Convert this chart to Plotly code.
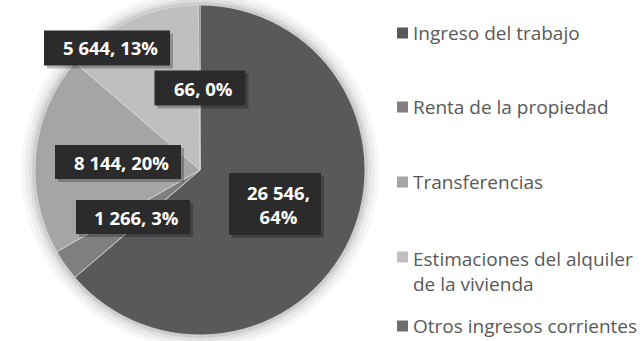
import plotly.graph_objects as go

# Ingreso corriente de los hogares por fuente
categories = [
    "Ingreso del trabajo",
    "Renta de la propiedad",
    "Transferencias",
    "Estimaciones del alquiler<br>de la vivienda",
    "Otros ingresos corrientes",
]
values = [26546, 1266, 8144, 5644, 66]
pct_labels = ["64%", "3%", "20%", "13%", "0%"]
colors = ["#595959", "#7f7f7f", "#a5a5a5", "#bfbfbf", "#6e6e6e"]

W, H = 644, 341


def px(x, y):
    return x / W, 1 - y / H


def fmt(v):
    return f"{v:,}".replace(",", " ")


fig = go.Figure()

fig.add_trace(go.Pie(
    labels=categories,
    values=values,
    sort=False,
    direction="clockwise",
    rotation=0,
    marker=dict(colors=colors, line=dict(color="#d9d9d9", width=0.8)),
    textinfo="none",
    hoverinfo="label+value+percent",
    showlegend=False,
    domain=dict(x=[35 / W, 365 / W], y=[1 - 335 / H, 1 - 5 / H]),
))

# soft halo behind the pie
cx, cy, r = 200, 170, 165
for grow, op in [(14, 0.03), (10, 0.04), (6, 0.06), (3, 0.08)]:
    fig.add_shape(type="circle", xref="paper", yref="paper", layer="below",
                  x0=(cx - r - grow) / W, x1=(cx + r + grow) / W,
                  y0=1 - (cy + r + grow) / H, y1=1 - (cy - r - grow) / H,
                  fillcolor="#000000", opacity=op, line=dict(width=0))

# data labels: value, percent
label_pos = [(275, 204), (133, 217), (118, 162), (107, 48), (200, 88)]
label_box = [(92, 62), (114, 34), (126, 34), (126, 35), (91, 35)]
for v, p, (lx, ly), (bw, bh) in zip(values, pct_labels, label_pos, label_box):
    sep = ",<br>" if v > 20000 else ", "
    text = f"<b>{fmt(v)}{sep}{p}</b>"
    # shadow
    fig.add_shape(type="rect", xref="paper", yref="paper",
                  x0=(lx - bw / 2 + 3) / W, x1=(lx + bw / 2 + 3) / W,
                  y0=1 - (ly + bh / 2 + 3) / H, y1=1 - (ly - bh / 2 + 3) / H,
                  fillcolor="rgba(0,0,0,0.25)", line=dict(width=0))
    fig.add_shape(type="rect", xref="paper", yref="paper",
                  x0=(lx - bw / 2) / W, x1=(lx + bw / 2) / W,
                  y0=1 - (ly + bh / 2) / H, y1=1 - (ly - bh / 2) / H,
                  fillcolor="#2b2b2b", line=dict(width=0))
    ax, ay = px(lx + 3, ly)
    fig.add_annotation(x=ax, y=ay, xref="paper", yref="paper", text=text,
                       showarrow=False, xanchor="center", yanchor="middle",
                       font=dict(family="Open Sans", size=18.5, color="#ffffff"))

# legend
legend_y = [33, 107, 182, 257, 326]
for name, col, ly in zip(categories, colors, legend_y):
    fig.add_shape(type="rect", xref="paper", yref="paper",
                  x0=397 / W, x1=408 / W, y0=1 - (ly + 5.5) / H, y1=1 - (ly - 5.5) / H,
                  fillcolor=col, line=dict(width=0))
    two_lines = "<br>" in name
    fig.add_annotation(x=411 / W, y=1 - ((ly - 13) if two_lines else ly) / H,
                       xref="paper", yref="paper",
                       text=name, showarrow=False, xanchor="left",
                       yanchor="top" if two_lines else "middle",
                       align="left",
                       font=dict(family="Open Sans", size=19, color="#595959"))

fig.update_layout(
    width=W, height=H,
    margin=dict(l=0, r=0, t=0, b=0),
    paper_bgcolor="#ffffff",
    plot_bgcolor="#ffffff",
)

fig.write_html("out.html")
